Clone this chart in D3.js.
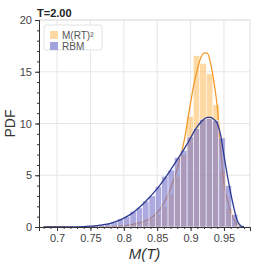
<!DOCTYPE html>
<html><head><meta charset="utf-8">
<script src="https://cdn.jsdelivr.net/npm/d3@7"></script>
<style>body{margin:0;background:#fff}svg{display:block}</style>
</head><body>
<svg id="c" width="266" height="266"></svg>
<script>
// ---- data ----
const title = "T=2.00";
const seriesNames = ["M(RT)²", "RBM"];
const xTicks = [0.7, 0.75, 0.8, 0.85, 0.9, 0.95];
const yTicks = [0, 5, 10, 15, 20];
// orange histogram (M(RT)^2)
const orangeBinStart = 0.7864, orangeBinWidth = 0.0098;
const orangeHeights = [0.05,0.1,0.2,0.3,0.5,0.8,1.2,2.0,3.2,4.9,7.0,10.7,16.55,15.8,14.8,11.8,5.5,1.8,0.4,0.05];
// purple histogram (RBM)
const purpleBinStart = 0.7143, purpleBinWidth = 0.0095;
const purpleHeights = [0.02,0.03,0.05,0.08,0.14,0.2,0.34,0.48,0.78,1.0,1.5,1.85,2.5,3.0,3.9,4.9,5.5,6.7,7.4,8.7,9.5,10.4,10.5,10.3,8.6,4.0,1.2,0.15];
// KDE curves
const kdeX = [0.68,0.70,0.72,0.74,0.75,0.76,0.77,0.78,0.79,0.80,0.81,0.82,0.83,0.84,0.85,0.86,0.87,0.88,0.89,0.90,0.905,0.91,0.915,0.92,0.925,0.93,0.935,0.94,0.945,0.95,0.955,0.96,0.965,0.97,0.975,0.98];
const orangeKde = [0,0,0,0,0,0.01,0.01,0.02,0.05,0.1,0.2,0.35,0.55,0.85,1.4,2.3,3.7,5.6,8.2,12.0,13.8,15.2,16.3,16.8,16.8,15.8,14.0,11.6,7.5,4.2,2.6,1.5,0.7,0.2,0.03,0];
const purpleKde = [0,0.005,0.01,0.04,0.08,0.13,0.22,0.36,0.56,0.85,1.22,1.72,2.3,2.98,3.7,4.55,5.5,6.5,7.5,8.6,9.2,9.7,10.1,10.4,10.6,10.6,10.4,10.0,8.9,6.9,5.0,3.3,1.8,0.6,0.12,0];

// ---- layout ----
const svg = d3.select("#c");
const L = 39, R = 250, T = 20, B = 227;
const x = d3.scaleLinear().domain([0.673, 0.989]).range([L, R]);
const y = d3.scaleLinear().domain([0, 20]).range([B, T]);

// grid
const g = svg.append("g");
g.selectAll(".gx").data(xTicks).join("line")
  .attr("x1", d => x(d)).attr("x2", d => x(d)).attr("y1", T).attr("y2", B)
  .attr("stroke", "#e6e6e6").attr("stroke-width", 1);
g.selectAll(".gy").data(yTicks).join("line")
  .attr("x1", L).attr("x2", R).attr("y1", d => y(d)).attr("y2", d => y(d))
  .attr("stroke", "#e6e6e6").attr("stroke-width", 1);
// top/right border
svg.append("path").attr("d", `M${L},${T}H${R}V${B}`).attr("fill", "none").attr("stroke", "#e0e0e0");

// orange bars
svg.append("g").selectAll("rect").data(orangeHeights).join("rect")
  .attr("x", (d, i) => x(orangeBinStart + i * orangeBinWidth))
  .attr("width", (d, i) => x(orangeBinStart + (i + 1) * orangeBinWidth) - x(orangeBinStart + i * orangeBinWidth))
  .attr("y", d => y(d)).attr("height", d => B - y(d))
  .attr("fill", "rgba(255,185,90,0.55)").attr("stroke", "#fff").attr("stroke-width", 0.5);

const line = d3.line().x(d => x(d[0])).y(d => y(d[1])).curve(d3.curveMonotoneX);
svg.append("path").datum(kdeX.map((v, i) => [v, orangeKde[i]])).attr("d", line)
  .attr("fill", "none").attr("stroke", "#f39a2b").attr("stroke-width", 1.3);

// purple bars
svg.append("g").selectAll("rect").data(purpleHeights).join("rect")
  .attr("x", (d, i) => x(purpleBinStart + i * purpleBinWidth))
  .attr("width", (d, i) => x(purpleBinStart + (i + 1) * purpleBinWidth) - x(purpleBinStart + i * purpleBinWidth))
  .attr("y", d => y(d)).attr("height", d => B - y(d))
  .attr("fill", "rgba(115,112,200,0.6)").attr("stroke", "#fff").attr("stroke-width", 0.5);

svg.append("path").datum(kdeX.map((v, i) => [v, purpleKde[i]])).attr("d", line)
  .attr("fill", "none").attr("stroke", "#2b3990").attr("stroke-width", 1.3);

// axes
const fontF = "Liberation Sans, Arial, sans-serif";
const xAxis = d3.axisBottom(x).tickValues(xTicks).tickFormat(d3.format("~g")).tickSize(4).tickPadding(3);
const xMinor = d3.axisBottom(x).tickValues(d3.range(0.68, 0.985, 0.01)).tickFormat("").tickSize(2);
const yAxis = d3.axisLeft(y).tickValues(yTicks).tickSize(4).tickPadding(3);
const yMinor = d3.axisLeft(y).tickValues(d3.range(0, 20.5, 1)).tickFormat("").tickSize(2);
function style(sel) {
  sel.selectAll("path").attr("stroke", "#333");
  sel.selectAll("line").attr("stroke", "#333");
  sel.selectAll("text").attr("fill", "#444").style("font-family", fontF).style("font-size", "11px");
}
svg.append("g").attr("transform", `translate(0,${B})`).call(xMinor).call(style);
svg.append("g").attr("transform", `translate(0,${B})`).call(xAxis).call(style);
svg.append("g").attr("transform", `translate(${L},0)`).call(yMinor).call(style);
svg.append("g").attr("transform", `translate(${L},0)`).call(yAxis).call(style);

// title and labels
svg.append("text").attr("x", L - 2).attr("y", 17).text(title)
  .style("font-family", fontF).style("font-size", "11px").style("font-weight", "bold").attr("fill", "#222");
svg.append("text").attr("transform", `translate(15,${(T + B) / 2}) rotate(-90)`).attr("text-anchor", "middle")
  .text("PDF").style("font-family", fontF).style("font-size", "14px").attr("fill", "#333");
svg.append("text").attr("x", (L + R) / 2).attr("y", 259).attr("text-anchor", "middle")
  .text("M(T)").style("font-family", fontF).style("font-size", "15px").style("font-style", "italic").attr("fill", "#333");

// legend
const lg = svg.append("g");
lg.append("rect").attr("x", 44).attr("y", 25).attr("width", 58).attr("height", 25).attr("rx", 2)
  .attr("fill", "#fff").attr("fill-opacity", 0.85).attr("stroke", "#e2e2e2");
const legendColors = ["#fed8a2", "#a3a2dc"];
seriesNames.forEach((n, i) => {
  lg.append("rect").attr("x", 50).attr("y", 31 + i * 11).attr("width", 8).attr("height", 8).attr("fill", legendColors[i]);
  lg.append("text").attr("x", 62).attr("y", 38.5 + i * 11).text(n)
    .style("font-family", fontF).style("font-size", "10px").attr("fill", "#555");
});
</script>
</body></html>
